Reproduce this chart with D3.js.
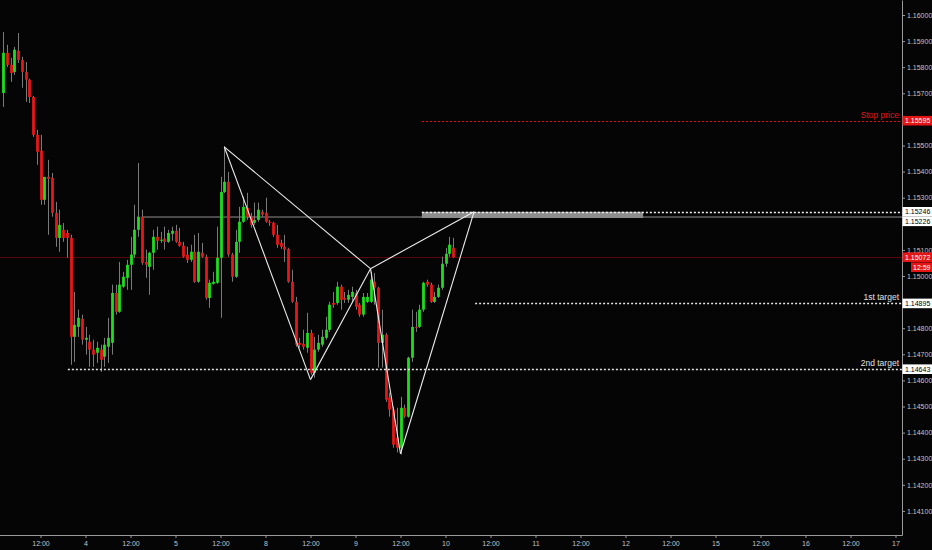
<!DOCTYPE html>
<html><head><meta charset="utf-8">
<script src="https://cdn.jsdelivr.net/npm/d3@7"></script>
<style>html,body{margin:0;padding:0;background:#050505;overflow:hidden}svg{display:block}</style>
</head><body><svg id="chart" width="932" height="550"></svg>
<script>
// ---- DATA (EURUSD-style 1H candles) ----
const firstHour = 2; // hour index of first candle (0 = day "3" 00:00)
const open = [1.15701,1.15855,1.15809,1.15782,1.15863,1.15828,1.15782,1.15752,1.15686,1.15541,
1.15480,1.15292,1.15380,1.15376,1.15242,1.15146,1.15177,1.15165,1.15146,1.14767,
1.14805,1.14836,1.14756,1.14748,1.14718,1.14706,1.14718,1.14691,1.14729,1.14744,
1.14935,1.14863,1.14959,1.14993,1.15043,1.15082,1.15177,1.15227,1.15054,1.15035,
1.15089,1.15150,1.15135,1.15143,1.15131,1.15162,1.15173,1.15131,1.15116,1.15082,
1.15062,1.15093,1.14978,1.15089,1.15074,1.14916,1.14970,1.14974,1.15070,1.15322,
1.15361,1.15082,1.14997,1.15131,1.15208,1.15261,1.15227,1.15204,1.15215,1.15246,
1.15242,1.15208,1.15204,1.15158,1.15127,1.15112,1.15104,1.14978,1.14901,1.14744,
1.14740,1.14725,1.14782,1.14629,1.14718,1.14737,1.14763,1.14794,1.14897,1.14897,
1.14959,1.14916,1.14909,1.14920,1.14935,1.14890,1.14852,1.14901,1.14901,1.14978,
1.14955,1.14744,1.14775,1.14534,1.14488,1.14380,1.14342,1.14495,1.14461,1.14687,
1.14805,1.14805,1.14871,1.14978,1.14967,1.14901,1.14920,1.14955,1.15047,1.15085,
1.15108];
const high = [1.15935,1.15886,1.15836,1.15878,1.15931,1.15840,1.15820,1.15756,1.15690,1.15560,
1.15541,1.15361,1.15445,1.15395,1.15284,1.15254,1.15203,1.15177,1.15158,1.14939,
1.14871,1.14852,1.14805,1.14775,1.14756,1.14748,1.14737,1.14763,1.14840,1.14967,
1.14967,1.15054,1.15016,1.15062,1.15150,1.15273,1.15433,1.15254,1.15101,1.15093,
1.15177,1.15189,1.15169,1.15189,1.15177,1.15189,1.15196,1.15185,1.15131,1.15112,
1.15120,1.15158,1.15165,1.15127,1.15082,1.14986,1.15016,1.15189,1.15380,1.15496,
1.15399,1.15089,1.15177,1.15265,1.15304,1.15319,1.15242,1.15281,1.15281,1.15254,
1.15300,1.15215,1.15208,1.15196,1.15139,1.15158,1.15108,1.15024,1.14920,1.14763,
1.14794,1.14859,1.14794,1.14767,1.14775,1.14794,1.14844,1.14901,1.14939,1.14978,
1.14967,1.14939,1.14947,1.14959,1.14947,1.14897,1.14935,1.14935,1.15016,1.15012,
1.14959,1.14871,1.14782,1.14553,1.14499,1.14495,1.14537,1.14507,1.14691,1.14871,
1.14863,1.14890,1.14978,1.14986,1.14974,1.14939,1.14967,1.15074,1.15108,1.15150,
1.15146];
const low = [1.15648,1.15801,1.15744,1.15771,1.15816,1.15721,1.15667,1.15663,1.15533,1.15426,
1.15273,1.15273,1.15158,1.15227,1.15112,1.15093,1.15131,1.15070,1.14660,1.14671,
1.14767,1.14737,1.14699,1.14652,1.14652,1.14667,1.14633,1.14652,1.14667,1.14699,
1.14852,1.14859,1.14955,1.14947,1.14947,1.15070,1.15150,1.15043,1.14993,1.14928,
1.15024,1.15101,1.15127,1.15101,1.15127,1.15135,1.15127,1.15112,1.15070,1.15050,
1.15054,1.14974,1.14974,1.15070,1.14909,1.14878,1.14967,1.14970,1.14840,1.15318,
1.15074,1.14978,1.14993,1.15089,1.15204,1.15215,1.15185,1.15196,1.15208,1.15227,
1.15204,1.15192,1.15150,1.15108,1.15104,1.15054,1.14974,1.14897,1.14729,1.14725,
1.14718,1.14706,1.14622,1.14610,1.14710,1.14729,1.14756,1.14786,1.14878,1.14890,
1.14871,1.14897,1.14897,1.14901,1.14871,1.14844,1.14844,1.14897,1.14897,1.14890,
1.14649,1.14649,1.14518,1.14461,1.14342,1.14324,1.14316,1.14457,1.14457,1.14671,
1.14786,1.14801,1.14863,1.14959,1.14897,1.14897,1.14916,1.14947,1.15035,1.15074,
1.15070];
const close = [1.15855,1.15809,1.15778,1.15867,1.15828,1.15782,1.15752,1.15686,1.15541,1.15476,
1.15292,1.15380,1.15372,1.15242,1.15146,1.15196,1.15146,1.15146,1.14767,1.14813,
1.14840,1.14756,1.14763,1.14718,1.14699,1.14725,1.14679,1.14737,1.14763,1.14935,
1.14863,1.14967,1.14997,1.15043,1.15082,1.15177,1.15227,1.15050,1.15043,1.15089,
1.15150,1.15135,1.15139,1.15131,1.15165,1.15173,1.15131,1.15116,1.15074,1.15062,
1.15093,1.14978,1.15093,1.15074,1.14916,1.14974,1.14978,1.15070,1.15322,1.15361,
1.15082,1.14997,1.15131,1.15208,1.15265,1.15227,1.15196,1.15215,1.15254,1.15235,
1.15208,1.15204,1.15158,1.15120,1.15112,1.15101,1.14978,1.14901,1.14737,1.14737,
1.14729,1.14782,1.14629,1.14718,1.14744,1.14767,1.14794,1.14890,1.14890,1.14959,
1.14909,1.14909,1.14928,1.14939,1.14882,1.14852,1.14920,1.14920,1.14986,1.14955,
1.14744,1.14775,1.14526,1.14488,1.14354,1.14342,1.14495,1.14461,1.14687,1.14805,
1.14801,1.14871,1.14974,1.14967,1.14901,1.14920,1.14955,1.15047,1.15085,1.15120,
1.15072];

// x-axis ticks (hour index) and their labels
const xTickHours  = [12,24,36,48,60,72,84,96,108,120,132,144,156,168,180,192,204,216,228,240];
const xTickLabels = ["12:00","4","12:00","5","12:00","8","12:00","9","12:00","10","12:00","11","12:00","12","12:00","15","12:00","16","12:00","17"];
// y-axis ticks
const yTicks = [1.141,1.142,1.143,1.144,1.145,1.146,1.147,1.148,1.149,1.150,1.151,1.152,1.153,1.154,1.155,1.156,1.157,1.158,1.159,1.160];

// harmonic pattern pivots
const patternNames  = ["X","A","B","C","D"];
const patternHours  = [61, 84, 100, 108, 127.6];
const patternPrices = [1.15495, 1.14603, 1.15028, 1.14319, 1.15246];
const patternLegs   = [[0,1],[1,2],[0,2],[2,3],[3,4],[2,4]];

// horizontal levels
const levelNames  = ["Stop price", "entry", "zone", "current", "1st target", "2nd target"];
const levelPrices = [1.15595, 1.15246, 1.15226, 1.15072, 1.14895, 1.14643];
const levelStart  = [113.7, 113.7, 39, 0, 127.9, 19.3];
const zoneEndHour = 172.7;
const countdown = "12:59";

// ---- DRAW ----
const W = 932, H = 550, axisX = 902, axisY = 535;
const svg = d3.select("#chart");
svg.append("rect").attr("width", W).attr("height", H).attr("fill", "#050505");

const x = d3.scaleLinear().domain([1.2, 241.733]).range([0, axisX]);
const y = d3.scaleLinear().domain([1.140077, 1.160575]).range([axisY, 0]);
const font = "'Liberation Sans', Arial, sans-serif";

const candles = open.map((o, i) => ({h: firstHour + i, o, hi: high[i], lo: low[i], c: close[i]}));

const plot = svg.append("g");

// current price line (dark red)
plot.append("line")
  .attr("x1", x(levelStart[3])).attr("x2", axisX)
  .attr("y1", Math.round(y(levelPrices[3])) + 0.5).attr("y2", Math.round(y(levelPrices[3])) + 0.5)
  .attr("stroke", "#5c0606").attr("stroke-width", 1);

// grey horizontal ray at 1.15226
plot.append("line")
  .attr("x1", x(levelStart[2])).attr("x2", axisX)
  .attr("y1", y(levelPrices[2])).attr("y2", y(levelPrices[2]))
  .attr("stroke", "#8f8f8f").attr("stroke-width", 1);

// grey zone
plot.append("rect")
  .attr("x", x(levelStart[1])).attr("width", x(zoneEndHour) - x(levelStart[1]))
  .attr("y", y(levelPrices[1])).attr("height", y(levelPrices[2]) - y(levelPrices[1]) + 1)
  .attr("fill", "#8c8c8c");

// candles
const bw = 2.8;
const cg = plot.append("g");
cg.selectAll("line.wick").data(candles).enter().append("line")
  .attr("x1", d => Math.round(x(d.h)) + 0.5).attr("x2", d => Math.round(x(d.h)) + 0.5)
  .attr("y1", d => y(d.hi)).attr("y2", d => y(d.lo))
  .attr("stroke", "#7a7a7a").attr("stroke-width", 1);
cg.selectAll("rect.body").data(candles).enter().append("rect")
  .attr("x", d => Math.round(x(d.h)) + 0.5 - bw / 2).attr("width", bw)
  .attr("y", d => y(Math.max(d.o, d.c)))
  .attr("height", d => Math.max(1, Math.abs(y(d.o) - y(d.c))))
  .attr("fill", d => d.c >= d.o ? "#1fdc1f" : "#e41818");

// dashed levels
function dashed(i, color, width) {
  plot.append("line")
    .attr("x1", x(levelStart[i])).attr("x2", axisX)
    .attr("y1", Math.round(y(levelPrices[i])) + 0.5).attr("y2", Math.round(y(levelPrices[i])) + 0.5)
    .attr("stroke", color).attr("stroke-width", width).attr("stroke-dasharray", "2,2");
}
dashed(0, "#e01818", 1.2);
dashed(1, "#f2f2f2", 1.6);
dashed(4, "#e6e6e6", 1.4);
dashed(5, "#e6e6e6", 1.4);

// level labels
function levelLabel(i, color) {
  plot.append("text").attr("x", 899).attr("y", y(levelPrices[i]) - 3)
    .attr("text-anchor", "end").attr("font-family", font).attr("font-size", 8.5)
    .attr("fill", color).text(levelNames[i]);
}
levelLabel(0, "#e01818");
levelLabel(4, "#e0e0e0");
levelLabel(5, "#e0e0e0");

// pattern
const pts = patternHours.map((h, i) => [x(h), y(patternPrices[i])]);
plot.append("g").selectAll("line").data(patternLegs).enter().append("line")
  .attr("x1", d => pts[d[0]][0]).attr("y1", d => pts[d[0]][1])
  .attr("x2", d => pts[d[1]][0]).attr("y2", d => pts[d[1]][1])
  .attr("stroke", "#ececec").attr("stroke-width", 1.1);

// marker label positions (pushed apart when too close)
const markerY = [];
{
  let prevY = -100;
  levelPrices.forEach((p, i) => {
    let cy = y(p);
    if (cy - prevY < 9.5) cy = prevY + 9.5;
    markerY.push(cy);
    prevY = (i === 3) ? cy + 10 : cy;
  });
}
const countdownY = markerY[3] + 10;
const occupied = markerY.concat([countdownY]);

// axes
const xAxis = d3.axisBottom(x).tickValues(xTickHours)
  .tickFormat((d, i) => xTickLabels[i]).tickSize(3).tickSizeOuter(0).tickPadding(3);
const gx = svg.append("g").attr("transform", `translate(0,${axisY})`).call(xAxis);
const yAxis = d3.axisRight(y).tickValues(yTicks).tickFormat(d3.format(".5f"))
  .tickSize(3).tickSizeOuter(0).tickPadding(2);
const gy = svg.append("g").attr("transform", `translate(${axisX},0)`).call(yAxis);
[gx, gy].forEach(g => {
  g.select(".domain").attr("stroke", "#9a9a9a");
  g.selectAll(".tick line").attr("stroke", "#9a9a9a");
  g.selectAll("text").attr("fill", "#c4c4c4").attr("font-family", font).attr("font-size", 7);
});
gx.select(".domain").attr("d", `M0,0.5H${axisX + 0.5}`);
// hide tick labels that sit under a price marker box
gy.selectAll(".tick").filter(d => occupied.some(m => Math.abs(y(d) - m) < 7))
  .select("text").remove();

// price markers on axis
const markerFill = ["#e51515", "#ffffff", "#ffffff", "#e51515", "#ffffff", "#ffffff"];
const markerText = ["#ffffff", "#000000", "#000000", "#ffffff", "#000000", "#000000"];
const mk = svg.append("g");
levelPrices.forEach((p, i) => {
  const cy = markerY[i];
  mk.append("rect").attr("x", axisX + 0.5).attr("y", cy - 4.8).attr("width", W - axisX).attr("height", 9.6)
    .attr("fill", markerFill[i]);
  mk.append("text").attr("x", axisX + 3).attr("y", cy).attr("dy", "0.35em")
    .attr("font-family", font).attr("font-size", 7).attr("fill", markerText[i])
    .text(d3.format(".5f")(p));
});
mk.append("rect").attr("x", axisX + 9).attr("y", countdownY - 4.8).attr("width", W - axisX - 9).attr("height", 9.6)
  .attr("fill", markerFill[3]);
mk.append("text").attr("x", axisX + 11).attr("y", countdownY).attr("dy", "0.35em")
  .attr("font-family", font).attr("font-size", 7).attr("fill", "#ffffff").text(countdown);
</script>
</body></html>
